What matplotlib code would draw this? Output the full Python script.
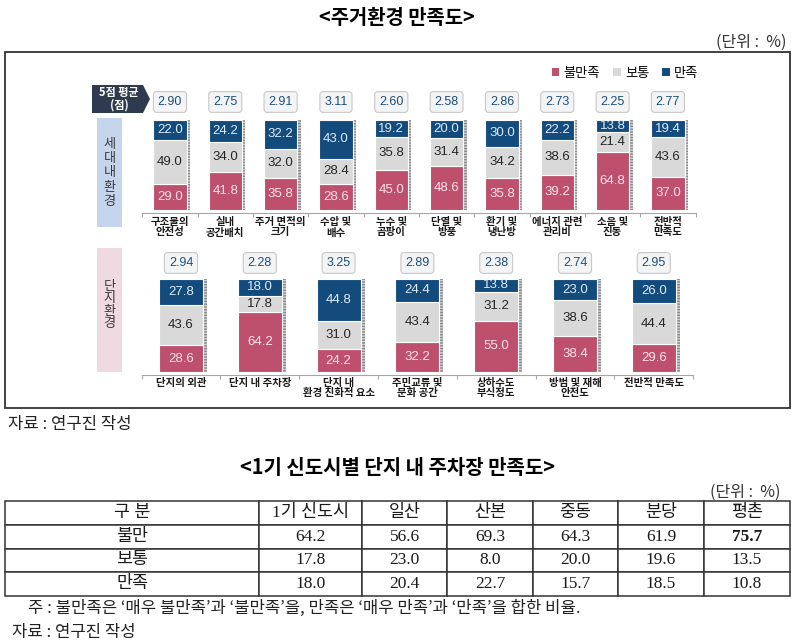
import matplotlib.pyplot as plt
from matplotlib.patches import Rectangle, Polygon
import numpy as np

plt.rcParams['font.family'] = ['Noto Sans CJK KR', 'DejaVu Sans']

# 세대 내 환경
unit_cats = ['구조물의\n안전성', '실내\n공간배치', '주거 면적의\n크기', '수압 및\n배수', '누수 및\n곰팡이',
             '단열 및\n방풍', '환기 및\n냉난방', '에너지 관련\n관리비', '소음 및\n진동', '전반적\n만족도']
unit_bad = [29.0, 41.8, 35.8, 28.6, 45.0, 48.6, 35.8, 39.2, 64.8, 37.0]
unit_mid = [49.0, 34.0, 32.0, 28.4, 35.8, 31.4, 34.2, 38.6, 21.4, 43.6]
unit_good = [22.0, 24.2, 32.2, 43.0, 19.2, 20.0, 30.0, 22.2, 13.8, 19.4]
unit_score = [2.90, 2.75, 2.91, 3.11, 2.60, 2.58, 2.86, 2.73, 2.25, 2.77]

# 단지 환경
complex_cats = ['단지의 외관', '단지 내 주차장', '단지 내\n환경 친화적 요소', '주민교류 및\n문화 공간',
                '상하수도\n부식정도', '방범 및 재해\n안전도', '전반적 만족도']
complex_bad = [28.6, 64.2, 24.2, 32.2, 55.0, 38.4, 29.6]
complex_mid = [43.6, 17.8, 31.0, 43.4, 31.2, 38.6, 44.4]
complex_good = [27.8, 18.0, 44.8, 24.4, 13.8, 23.0, 26.0]
complex_score = [2.94, 2.28, 3.25, 2.89, 2.38, 2.74, 2.95]

# 1기 신도시별 주차장 만족도
city_names = ['1기 신도시', '일산', '산본', '중동', '분당', '평촌']
city_bad = [64.2, 56.6, 69.3, 64.3, 61.9, 75.7]
city_mid = [17.8, 23.0, 8.0, 20.0, 19.6, 13.5]
city_good = [18.0, 20.4, 22.7, 15.7, 18.5, 10.8]

PINK = '#BE506E'
GRAY = '#D9D9D9'
NAVY = '#134B7D'
NUM_FONT = ['Liberation Sans', 'DejaVu Sans']
SERIF = ['Liberation Serif', 'Noto Sans CJK KR']

W, H = 793, 643


def fx(x):
    return x / W


def fy(y):
    return 1 - y / H


def stacked(ax, bad, mid, good, score, cats, width, shadow, y0, ypx, score_px, label_px, label_size):
    x = np.arange(len(cats))
    bad = np.array(bad)
    mid = np.array(mid)
    good = np.array(good)
    ax.bar(x + width / 2 + shadow / 2, 100, width=shadow, color='#CFCFCF', hatch='------',
           edgecolor='#8A8A8A', linewidth=0)
    ax.bar(x, bad, width=width, color=PINK, edgecolor='white', linewidth=0.8)
    ax.bar(x, mid, width=width, bottom=bad, color=GRAY, edgecolor='white', linewidth=0.8)
    ax.bar(x, good, width=width, bottom=bad + mid, color=NAVY, edgecolor='white', linewidth=0.8)
    for i in range(len(cats)):
        ax.text(i, bad[i] / 2, f'{bad[i]:.1f}', ha='center', va='center', color='#FBE3EA',
                fontsize=9.5, family=NUM_FONT)
        ax.text(i, bad[i] + mid[i] / 2, f'{mid[i]:.1f}', ha='center', va='center', color='#262626',
                fontsize=9.5, family=NUM_FONT)
        ax.text(i, bad[i] + mid[i] + good[i] / 2, f'{good[i]:.1f}', ha='center', va='center',
                color='#DDEBF7', fontsize=9.5, family=NUM_FONT)
        ax.text(i, (y0 - score_px) / ypx, f'{score[i]:.2f}', transform=ax.get_xaxis_transform(),
                ha='center', va='center', color='#1F4E79', fontsize=9, family=NUM_FONT,
                bbox=dict(boxstyle='round,pad=0.35,rounding_size=0.25', fc='#F3F4F6', ec='#C8C8C8', lw=0.8))
        ax.text(i, (y0 - label_px) / ypx, cats[i], transform=ax.get_xaxis_transform(),
                ha='center', va='top', color='#1A1A1A', fontsize=label_size, fontweight='bold',
                linespacing=1.05)
    ax.set_xlim(-0.5, len(cats) - 0.5)
    ax.set_ylim(0, 100)
    for s in ['left', 'top', 'right']:
        ax.spines[s].set_visible(False)
    ax.spines['bottom'].set_position(('outward', 2.2))
    ax.spines['bottom'].set_color('#A6A6A6')
    ax.set_yticks([])
    ax.set_xticks(np.arange(-0.5, len(cats), 1))
    ax.set_xticklabels([])
    ax.tick_params(axis='x', length=3, color='#A6A6A6', direction='out')
    ax.patch.set_alpha(0)


fig = plt.figure(figsize=(7.93, 6.43), dpi=100)

fig.text(fx(397), fy(18), '<주거환경 만족도>', ha='center', va='center', fontsize=14.3, fontweight='bold')
fig.text(fx(786), fy(42), '(단위 :  %)', ha='right', va='center', fontsize=11.5, color='#333333')

fig.add_artist(Rectangle((fx(5), fy(408)), 785 / W, 356 / H, transform=fig.transFigure,
                         fill=False, ec='#333333', lw=1.3))

ax1 = fig.add_axes([fx(142.3), fy(210), 553.3 / W, 90 / H])
stacked(ax1, unit_bad, unit_mid, unit_good, unit_score, unit_cats, 0.6, 0.065, 210, 90, 102, 217, 7.5)

ax2 = fig.add_axes([fx(141.6), fy(372), 551.6 / W, 93 / H])
stacked(ax2, complex_bad, complex_mid, complex_good, complex_score, complex_cats, 0.56, 0.05,
        372, 93, 263, 378, 7.5)

# 왼쪽 구분 박스
fig.add_artist(Rectangle((fx(97), fy(227)), 25 / W, 109 / H, transform=fig.transFigure,
                         fc='#C5D6EC', ec='none'))
fig.text(fx(109.5), fy(173), '세\n대\n내\n환\n경', ha='center', va='center', fontsize=9.5,
         color='#3A3A3A', linespacing=1.12)
fig.add_artist(Rectangle((fx(97), fy(372)), 25 / W, 124 / H, transform=fig.transFigure,
                         fc='#F0DAE1', ec='none'))
fig.text(fx(109.5), fy(305), '단\n지\n환\n경', ha='center', va='center', fontsize=9.5,
         color='#3A3A3A', linespacing=0.95)

pts = [(92, 85), (143, 85), (150, 99), (143, 113), (92, 113)]
fig.add_artist(Polygon([(fx(a), fy(b)) for a, b in pts], closed=True, transform=fig.transFigure,
                       fc='#2E3A4E', ec='none'))
fig.text(fx(119), fy(99), '5점 평균\n(점)', ha='center', va='center', fontsize=8, fontweight='bold',
         color='white', linespacing=1.0)

handles = [Rectangle((0, 0), 1, 1, fc=c) for c in [PINK, GRAY, NAVY]]
fig.legend(handles, ['불만족', '보통', '만족'], loc='center', bbox_to_anchor=(fx(625), fy(73)), ncol=3,
           frameon=False, handlelength=0.6, handleheight=0.6, columnspacing=1.0, handletextpad=0.3,
           fontsize=9.5)

fig.text(fx(8), fy(425), '자료 : 연구진 작성', ha='left', va='center', fontsize=12, color='#222222')

# 표
fig.text(fx(397), fy(467), '<1기 신도시별 단지 내 주차장 만족도>', ha='center', va='center',
         fontsize=14.4, fontweight='bold')
fig.text(fx(781), fy(492), '(단위 :  %)', ha='right', va='center', fontsize=11.5, color='#333333')

rows = [['구 분'] + city_names,
        ['불만'] + [f'{v:.1f}' for v in city_bad],
        ['보통'] + [f'{v:.1f}' for v in city_mid],
        ['만족'] + [f'{v:.1f}' for v in city_good]]
col_w = np.array([254, 103, 85, 86, 85, 86, 86], dtype=float)

ax_t = fig.add_axes([fx(5), fy(596), 785 / W, 95 / H])
ax_t.axis('off')
tbl = ax_t.table(cellText=rows, colWidths=list(col_w / col_w.sum()), cellLoc='center', bbox=[0, 0, 1, 1])
tbl.auto_set_font_size(False)
tbl.set_fontsize(12.5)
for (r, c), cell in tbl.get_celld().items():
    cell.set_edgecolor('#333333')
    cell.set_linewidth(1.1)
    cell.get_text().set_fontfamily(SERIF)
    cell.get_text().set_fontweight('light')
    cell.get_text().set_color('#1A1A1A')
tbl[1, 6].get_text().set_fontweight('bold')

fig.text(fx(28), fy(608), '주 : 불만족은 ‘매우 불만족’과 ‘불만족’을, 만족은 ‘매우 만족’과 ‘만족’을 합한 비율.',
         ha='left', va='center', fontsize=12, color='#222222')
fig.text(fx(12), fy(632), '자료 : 연구진 작성', ha='left', va='center', fontsize=12, color='#222222')

fig.savefig('out.png', dpi=100)
plt.close(fig)
